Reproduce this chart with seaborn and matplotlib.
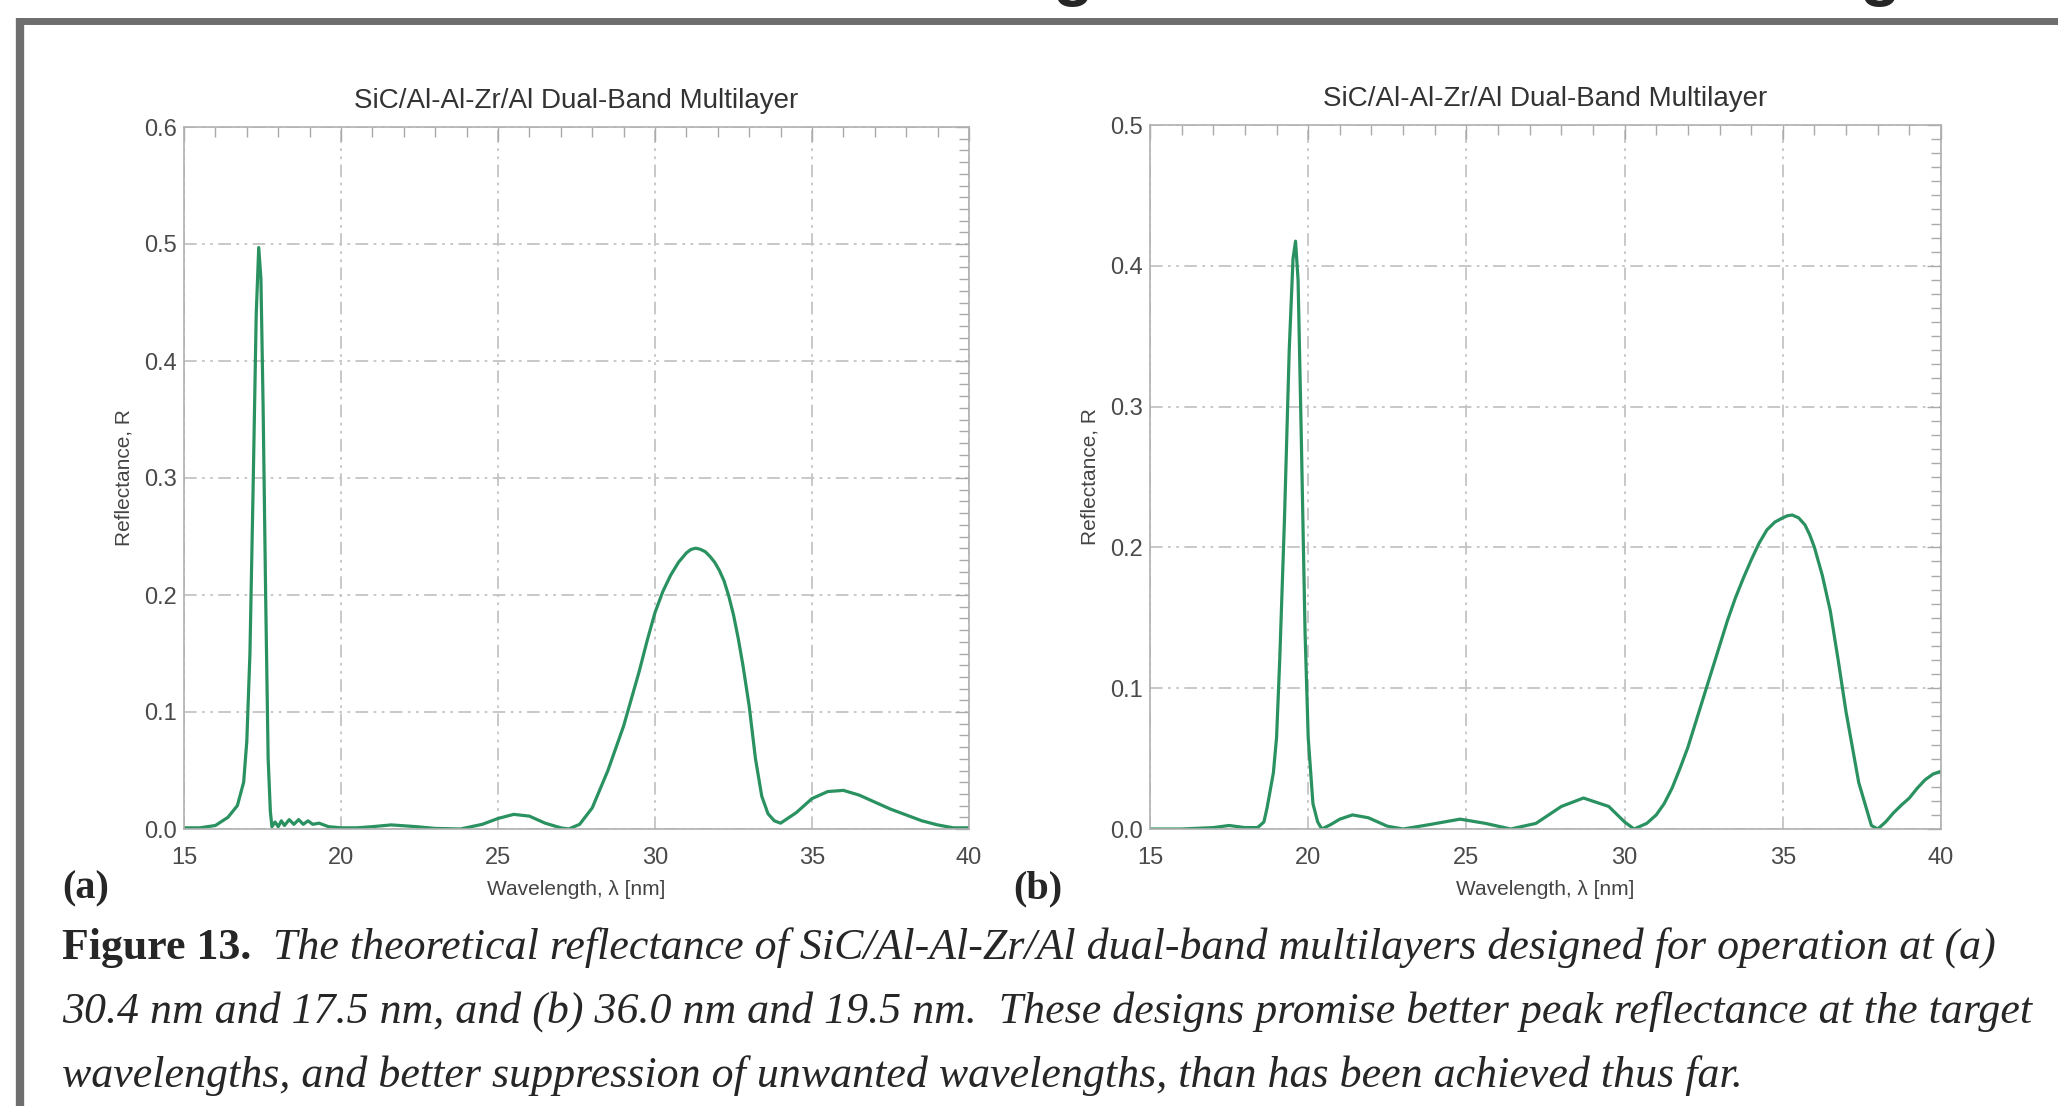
import matplotlib
matplotlib.use("Agg")
import matplotlib.pyplot as plt
from matplotlib.ticker import MultipleLocator, FormatStrFormatter
from matplotlib.lines import Line2D
import seaborn as sns

# Curve (a): designed for 30.4 nm and 17.5 nm
lam_a = [15.0, 15.5, 16.0, 16.4, 16.7, 16.9, 17.0, 17.1, 17.2, 17.3, 17.38,
         17.45, 17.52, 17.6, 17.68, 17.75, 17.8, 17.9, 18.0, 18.1, 18.2,
         18.35, 18.5, 18.65, 18.8, 18.95, 19.1, 19.3, 19.6, 20.0, 20.5,
         21.0, 21.6, 22.4, 23.0, 23.8, 24.5, 25.0, 25.5, 26.0, 26.5, 27.0,
         27.25, 27.6, 28.0, 28.5, 29.0, 29.5, 29.75, 30.0, 30.25, 30.5,
         30.75, 31.0, 31.15, 31.3, 31.45, 31.6, 31.75, 31.9, 32.05, 32.2,
         32.35, 32.5, 32.65, 32.8, 33.0, 33.2, 33.4, 33.6, 33.8, 34.0, 34.5,
         35.0, 35.5, 36.0, 36.5, 37.0, 37.5, 38.0, 38.5, 39.0, 39.5, 40.0]
refl_a = [0.001, 0.001, 0.003, 0.010, 0.020, 0.040, 0.075, 0.15, 0.29, 0.44,
          0.497, 0.47, 0.36, 0.20, 0.06, 0.015, 0.002, 0.006, 0.002, 0.007,
          0.003, 0.008, 0.004, 0.008, 0.004, 0.007, 0.004, 0.005, 0.002,
          0.001, 0.001, 0.002, 0.0035, 0.002, 0.0005, 0.0, 0.004, 0.009,
          0.0125, 0.011, 0.005, 0.001, 0.0, 0.004, 0.018, 0.05, 0.088, 0.135,
          0.161, 0.185, 0.203, 0.217, 0.228, 0.236, 0.239, 0.240, 0.239,
          0.237, 0.233, 0.228, 0.221, 0.212, 0.199, 0.183, 0.163, 0.14, 0.105,
          0.06, 0.028, 0.013, 0.007, 0.005, 0.014, 0.026, 0.032, 0.033, 0.029,
          0.023, 0.017, 0.012, 0.007, 0.0035, 0.001, 0.001]

# Curve (b): designed for 36.0 nm and 19.5 nm
lam_b = [15.0, 16.0, 17.0, 17.5, 18.0, 18.4, 18.6, 18.7, 18.9, 19.0, 19.1,
         19.25, 19.4, 19.52, 19.6, 19.68, 19.78, 19.9, 20.0, 20.15, 20.3,
         20.43, 20.7, 21.0, 21.4, 21.9, 22.5, 23.0, 23.8, 24.8, 25.6, 26.4,
         27.2, 28.0, 28.7, 29.5, 30.0, 30.3, 30.7, 31.0, 31.25, 31.5, 31.75,
         32.0, 32.25, 32.5, 32.75, 33.0, 33.25, 33.5, 33.75, 34.0, 34.25,
         34.5, 34.75, 35.0, 35.15, 35.3, 35.5, 35.7, 35.85, 36.0, 36.25,
         36.5, 36.75, 37.0, 37.4, 37.8, 38.0, 38.25, 38.5, 38.75, 39.0,
         39.25, 39.5, 39.75, 40.0]
refl_b = [0.0, 0.0, 0.001, 0.0025, 0.001, 0.001, 0.005, 0.015, 0.04, 0.065,
          0.12, 0.22, 0.34, 0.405, 0.4175, 0.39, 0.28, 0.14, 0.065, 0.018,
          0.005, 0.0, 0.003, 0.007, 0.010, 0.008, 0.002, 0.0, 0.003, 0.007,
          0.004, 0.0, 0.004, 0.016, 0.022, 0.016, 0.005, 0.0, 0.004, 0.010,
          0.018, 0.029, 0.043, 0.058, 0.076, 0.094, 0.112, 0.13, 0.148,
          0.164, 0.178, 0.191, 0.203, 0.2125, 0.218, 0.221, 0.2225, 0.223,
          0.221, 0.216, 0.209, 0.20, 0.18, 0.155, 0.12, 0.083, 0.033, 0.0025,
          0.0, 0.005, 0.0115, 0.017, 0.022, 0.029, 0.035, 0.039, 0.041]

plot_title = "SiC/Al-Al-Zr/Al Dual-Band Multilayer"
x_label = "Wavelength, \u03bb [nm]"
y_label = "Reflectance, R"

caption_bold = "Figure 13."
caption_lines = [
    "The theoretical reflectance of SiC/Al-Al-Zr/Al dual-band multilayers designed for operation at (a)",
    "30.4 nm and 17.5 nm, and (b) 36.0 nm and 19.5 nm.  These designs promise better peak reflectance at the target",
    "wavelengths, and better suppression of unwanted wavelengths, than has been achieved thus far.",
]

W, H = 2058, 1106
LINE_COLOR = "#2a9160"
SANS = ["Liberation Sans Narrow", "Liberation Sans", "DejaVu Sans"]
SERIF = ["Liberation Serif", "DejaVu Serif"]

sns.set_theme(style="white")
plt.rcParams["font.family"] = SANS


def style_axes(ax, ymax):
    ax.set_xlim(15, 40)
    ax.set_ylim(0, ymax)
    ax.xaxis.set_major_locator(MultipleLocator(5))
    ax.xaxis.set_minor_locator(MultipleLocator(1))
    ax.yaxis.set_major_locator(MultipleLocator(0.1))
    ax.yaxis.set_minor_locator(MultipleLocator(0.01))
    ax.yaxis.set_major_formatter(FormatStrFormatter("%.1f"))
    ax.tick_params(which="both", direction="in", top=True, right=True,
                   color="#aaaaaa", width=1.0)
    ax.tick_params(which="major", length=10, labelsize=17,
                   labelcolor="#4a4a4a")
    ax.tick_params(axis="x", which="major", pad=13)
    ax.tick_params(axis="y", which="major", pad=5)
    ax.tick_params(which="minor", length=7)
    ax.grid(True, which="major", color="#c4c4c4", lw=1.3,
            linestyle=(0, (7, 3, 1.5, 3, 1.5, 3)))
    for sp in ax.spines.values():
        sp.set_color("#b0b0b0")
        sp.set_linewidth(1.2)
    ax.set_title(plot_title, fontsize=20, color="#333333", pad=14)
    ax.set_xlabel(x_label, fontsize=15, color="#444444", labelpad=8)
    ax.set_ylabel(y_label, fontsize=15, color="#444444", labelpad=8)


fig = plt.figure(figsize=(W / 100, H / 100), dpi=100)
fig.patch.set_facecolor("white")

ax_a = fig.add_axes([184 / W, 1 - 829 / H, 785 / W, 702 / H])
ax_b = fig.add_axes([1150 / W, 1 - 829 / H, 791 / W, 704 / H])

sns.lineplot(x=lam_a, y=refl_a, ax=ax_a, color=LINE_COLOR, lw=2.3,
             estimator=None, sort=False)
sns.lineplot(x=lam_b, y=refl_b, ax=ax_b, color=LINE_COLOR, lw=2.3,
             estimator=None, sort=False)
style_axes(ax_a, 0.6)
style_axes(ax_b, 0.5)

# panel letters
fig.text(62 / W, 1 - 889 / H, "(a)", family=SERIF, fontweight="bold",
         fontsize=29, va="center", ha="left")
fig.text(1013 / W, 1 - 889 / H, "(b)", family=SERIF, fontweight="bold",
         fontsize=29, va="center", ha="left")

# caption, font size fitted to the width of the widest line
renderer = fig.canvas.get_renderer()
probe = fig.text(0, 0, caption_lines[1], family=SERIF, style="italic",
                 fontsize=30)
w = probe.get_window_extent(renderer).width
probe.remove()
cap_fs = 30 * (2030 - 62) / w

line_y = [948, 1012, 1076]
fig.text(62 / W, 1 - line_y[0] / H, caption_bold, family=SERIF,
         fontweight="bold", fontsize=cap_fs, va="center")
fig.text(273 / W, 1 - line_y[0] / H, caption_lines[0], family=SERIF,
         style="italic", fontsize=cap_fs, va="center")
fig.text(62 / W, 1 - line_y[1] / H, caption_lines[1], family=SERIF,
         style="italic", fontsize=cap_fs, va="center")
fig.text(62 / W, 1 - line_y[2] / H, caption_lines[2], family=SERIF,
         style="italic", fontsize=cap_fs, va="center")

# page frame and the clipped heading above it
fig.add_artist(Line2D([20 / W, 1.0], [1 - 21 / H, 1 - 21 / H],
                      color="#6e6e6e", lw=5, solid_capstyle="butt"))
fig.add_artist(Line2D([20 / W, 20 / W], [1 - 18 / H, 0.0],
                      color="#6e6e6e", lw=6, solid_capstyle="butt"))
for gx in [1073, 1880]:
    fig.text(gx / W, 1 + 7 / H, "g", family=SANS, fontweight="bold",
             fontsize=48, ha="center", va="baseline")

fig.savefig("out.png", dpi=100, facecolor="white")
